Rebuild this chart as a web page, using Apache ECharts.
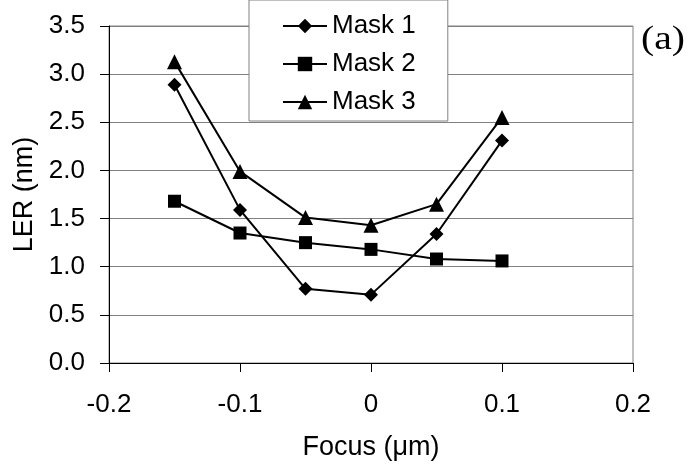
<!DOCTYPE html>
<html>
<head>
<meta charset="utf-8">
<script src="https://cdn.jsdelivr.net/npm/echarts@6/dist/echarts.min.js"></script>
<style>html,body{margin:0;padding:0;background:#fff;}#c{width:691px;height:467px;}</style>
</head>
<body>
<div id="c"></div>
<script>
var focus = [-0.15, -0.1, -0.05, 0, 0.05, 0.1];
var mask1 = [2.89, 1.59, 0.77, 0.71, 1.34, 2.31];
var mask2 = [1.68, 1.35, 1.25, 1.18, 1.08, 1.06];
var mask3 = [3.13, 1.99, 1.51, 1.43, 1.65, 2.55];
var seriesNames = ['Mask 1', 'Mask 2', 'Mask 3'];
var xTickLabels = ['-0.2', '-0.1', '0', '0.1', '0.2'];
var yTickLabels = ['0.0', '0.5', '1.0', '1.5', '2.0', '2.5', '3.0', '3.5'];

function pairs(ys) { return focus.map(function (x, i) { return [x, ys[i]]; }); }
var FONT = '"Liberation Sans", Arial, sans-serif';
var chart = echarts.init(document.getElementById('c'), null, { renderer: 'canvas' });
function mk(name, data, symbol, size) {
  return {
    name: name, type: 'line', data: pairs(data), symbol: symbol, symbolSize: size,
    lineStyle: { color: '#000', width: 2 }, itemStyle: { color: '#000' },
    animation: false, z: 3
  };
}
chart.setOption({
  animation: false,
  backgroundColor: '#fff',
  grid: { left: 109, right: 58, top: 26, height: 337, show: true, borderColor: '#808080', borderWidth: 1 },
  xAxis: {
    type: 'value', min: -0.2, max: 0.2, interval: 0.1,
    name: 'Focus (\u03bcm)', nameLocation: 'middle', nameGap: 71,
    nameTextStyle: { fontFamily: FONT, fontSize: 27, color: '#000' },
    axisLine: { show: true, onZero: false, lineStyle: { color: '#000', width: 1 } },
    axisTick: { show: true, length: 9, lineStyle: { color: '#000' } },
    axisLabel: { margin: 29, fontFamily: FONT, fontSize: 26, color: '#000',
      formatter: function (v) { return xTickLabels[Math.round((v + 0.2) / 0.1)]; } },
    splitLine: { show: false }
  },
  yAxis: {
    type: 'value', min: 0, max: 3.5, interval: 0.5,
    name: 'LER (nm)', nameLocation: 'middle', nameGap: 68,
    nameTextStyle: { fontFamily: FONT, fontSize: 27, color: '#000' },
    axisLine: { show: true, onZero: false, lineStyle: { color: '#000', width: 1 } },
    axisTick: { show: true, length: 9, lineStyle: { color: '#000' } },
    axisLabel: { margin: 24, fontFamily: FONT, fontSize: 26, color: '#000',
      formatter: function (v) { return yTickLabels[Math.round(v / 0.5)]; } },
    splitLine: { show: true, lineStyle: { color: '#808080', width: 1 } }
  },
  legend: {
    data: seriesNames,
    orient: 'vertical', left: 249, top: 0,
    padding: [13, 32, 6, 33],
    itemWidth: 44, itemHeight: 18, itemGap: 12,
    backgroundColor: '#fff', borderColor: '#808080', borderWidth: 1,
    textStyle: { fontFamily: FONT, fontSize: 26, color: '#000', lineHeight: 26 },
    z: 10
  },
  graphic: [{
    type: 'text', x: 641, y: 24,
    scaleX: 1.2,
    style: { text: '(a)', fontSize: 33, fontWeight: 'normal', fontFamily: '"Liberation Serif", "Times New Roman", serif', fill: '#000' }
  }],
  series: [
    mk(seriesNames[0], mask1, 'diamond', 14),
    mk(seriesNames[1], mask2, 'rect', 13),
    mk(seriesNames[2], mask3, 'triangle', 15)
  ]
});
</script>
</body>
</html>
